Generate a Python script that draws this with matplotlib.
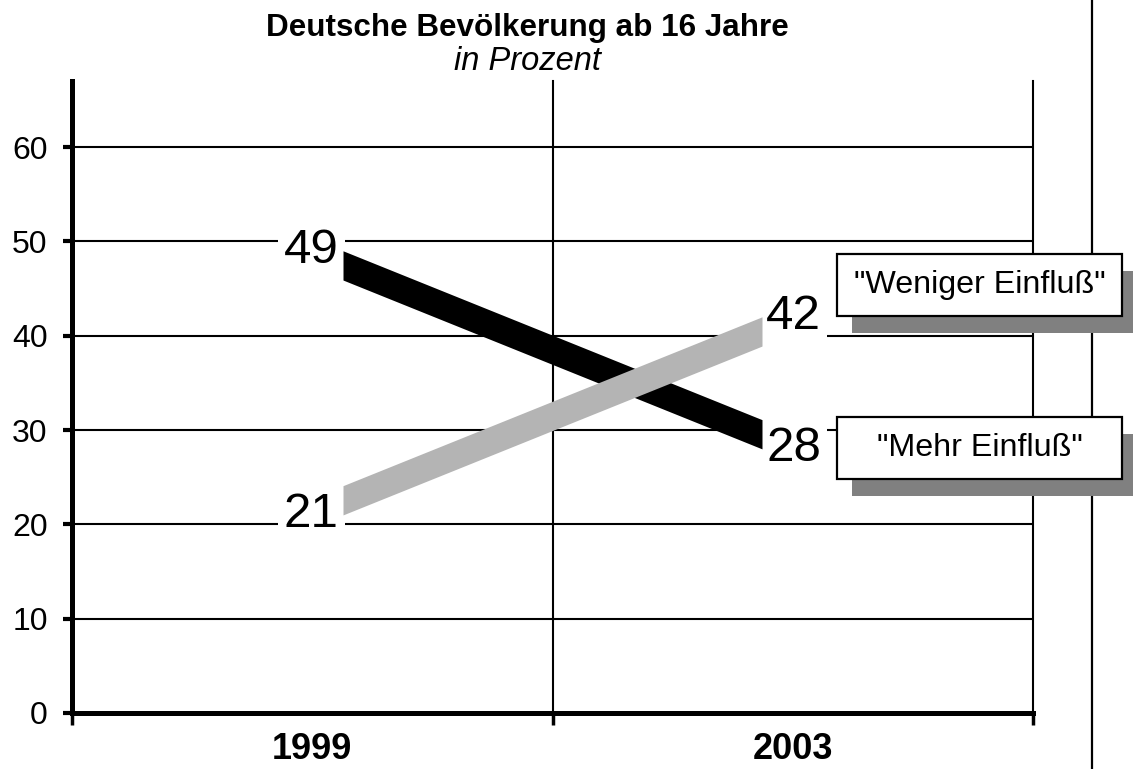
import matplotlib.pyplot as plt
from matplotlib.patches import Rectangle
from matplotlib.lines import Line2D

plt.rcParams['font.family'] = ['Liberation Sans', 'DejaVu Sans']

# DATA
years = ['1999', '2003']
mehr = [49, 28]      # black band
weniger = [21, 42]   # grey band
legend_labels = ['"Weniger Einfluß"', '"Mehr Einfluß"']
yticks = [0, 10, 20, 30, 40, 50, 60]

fig = plt.figure(figsize=(11.33, 7.69), dpi=100)
ax = fig.add_axes([72 / 1133, 1 - 713 / 769, 961 / 1133, 632 / 769])

ax.set_xlim(0, 2)
ax.set_ylim(0, 67)

# axes styling
for side in ['top', 'right']:
    ax.spines[side].set_visible(False)
for side in ['left', 'bottom']:
    ax.spines[side].set_linewidth(3.6)
    ax.spines[side].set_capstyle('projecting')

ax.set_yticks(yticks)
ax.set_yticklabels([str(v) for v in yticks], fontsize=23)
ax.tick_params(axis='y', direction='out', length=6.5, width=3, pad=11)

ax.set_xticks([0, 1, 2])
ax.set_xticklabels(['', '', ''])
ax.tick_params(axis='x', which='major', direction='out', length=8.5, width=2.5)
ax.set_xticks([0.5, 1.5], minor=True)
ax.set_xticklabels(years, minor=True, fontsize=26, fontweight='bold')
ax.tick_params(axis='x', which='minor', length=0, pad=14)

ax.set_axisbelow(True)
ax.grid(axis='y', color='black', linewidth=1.5)
ax.grid(axis='x', which='major', color='black', linewidth=1.5)
for gl in ax.get_xgridlines():
    gl.set_clip_on(False)

# BANDS
inset = 0.064
thick = 3.1
xl, xr = 0.5 + inset, 1.5 - inset


def band(vals, color, z):
    a, b = vals
    d = thick if a > b else -thick
    ax.fill_between([xl, xr], [a - d, b], [a, b + d], color=color,
                    linewidth=0, zorder=z)
    box = dict(facecolor='white', edgecolor='none', boxstyle='square,pad=0.12')
    ax.annotate(str(a), (xl, a), xytext=(-3, 0), textcoords='offset points',
                ha='right', va='center', fontsize=35.5, bbox=box, zorder=2)
    ax.annotate(str(b), (xr, b), xytext=(3, 0), textcoords='offset points',
                ha='left', va='center', fontsize=35.5, bbox=box, zorder=2)


band(mehr, 'black', 3)
band(weniger, '#b4b4b4', 4)

# TITLE
fig.text(527 / 1133, 1 - 28 / 769, 'Deutsche Bevölkerung ab 16 Jahre',
         ha='center', va='center', fontsize=22.6, fontweight='bold')
fig.text(527 / 1133, 1 - 62 / 769, 'in Prozent',
         ha='center', va='center', fontsize=23.5, style='italic')

# right frame line
fig.add_artist(Line2D([1092 / 1133, 1092 / 1133], [0, 1], color='black',
                      linewidth=1.6, transform=fig.transFigure, zorder=1))

# LEGEND BOXES
bw, bh = 285 / 1133, 62 / 769
dx, dy = 15 / 1133, -17 / 769
bx = 837 / 1133
for label, top_px in zip(legend_labels, [254, 417]):
    by = 1 - (top_px + 62) / 769
    fig.add_artist(Rectangle((bx + dx, by + dy), bw, bh, facecolor='#808080',
                             edgecolor='none', transform=fig.transFigure, zorder=2))
    fig.add_artist(Rectangle((bx, by), bw, bh, facecolor='white', edgecolor='black',
                             linewidth=1.6, transform=fig.transFigure, zorder=3))
    fig.text(bx + bw / 2, by + bh / 2, label, ha='center', va='center',
             fontsize=23.2, zorder=4)

fig.savefig('out.png', dpi=100)
